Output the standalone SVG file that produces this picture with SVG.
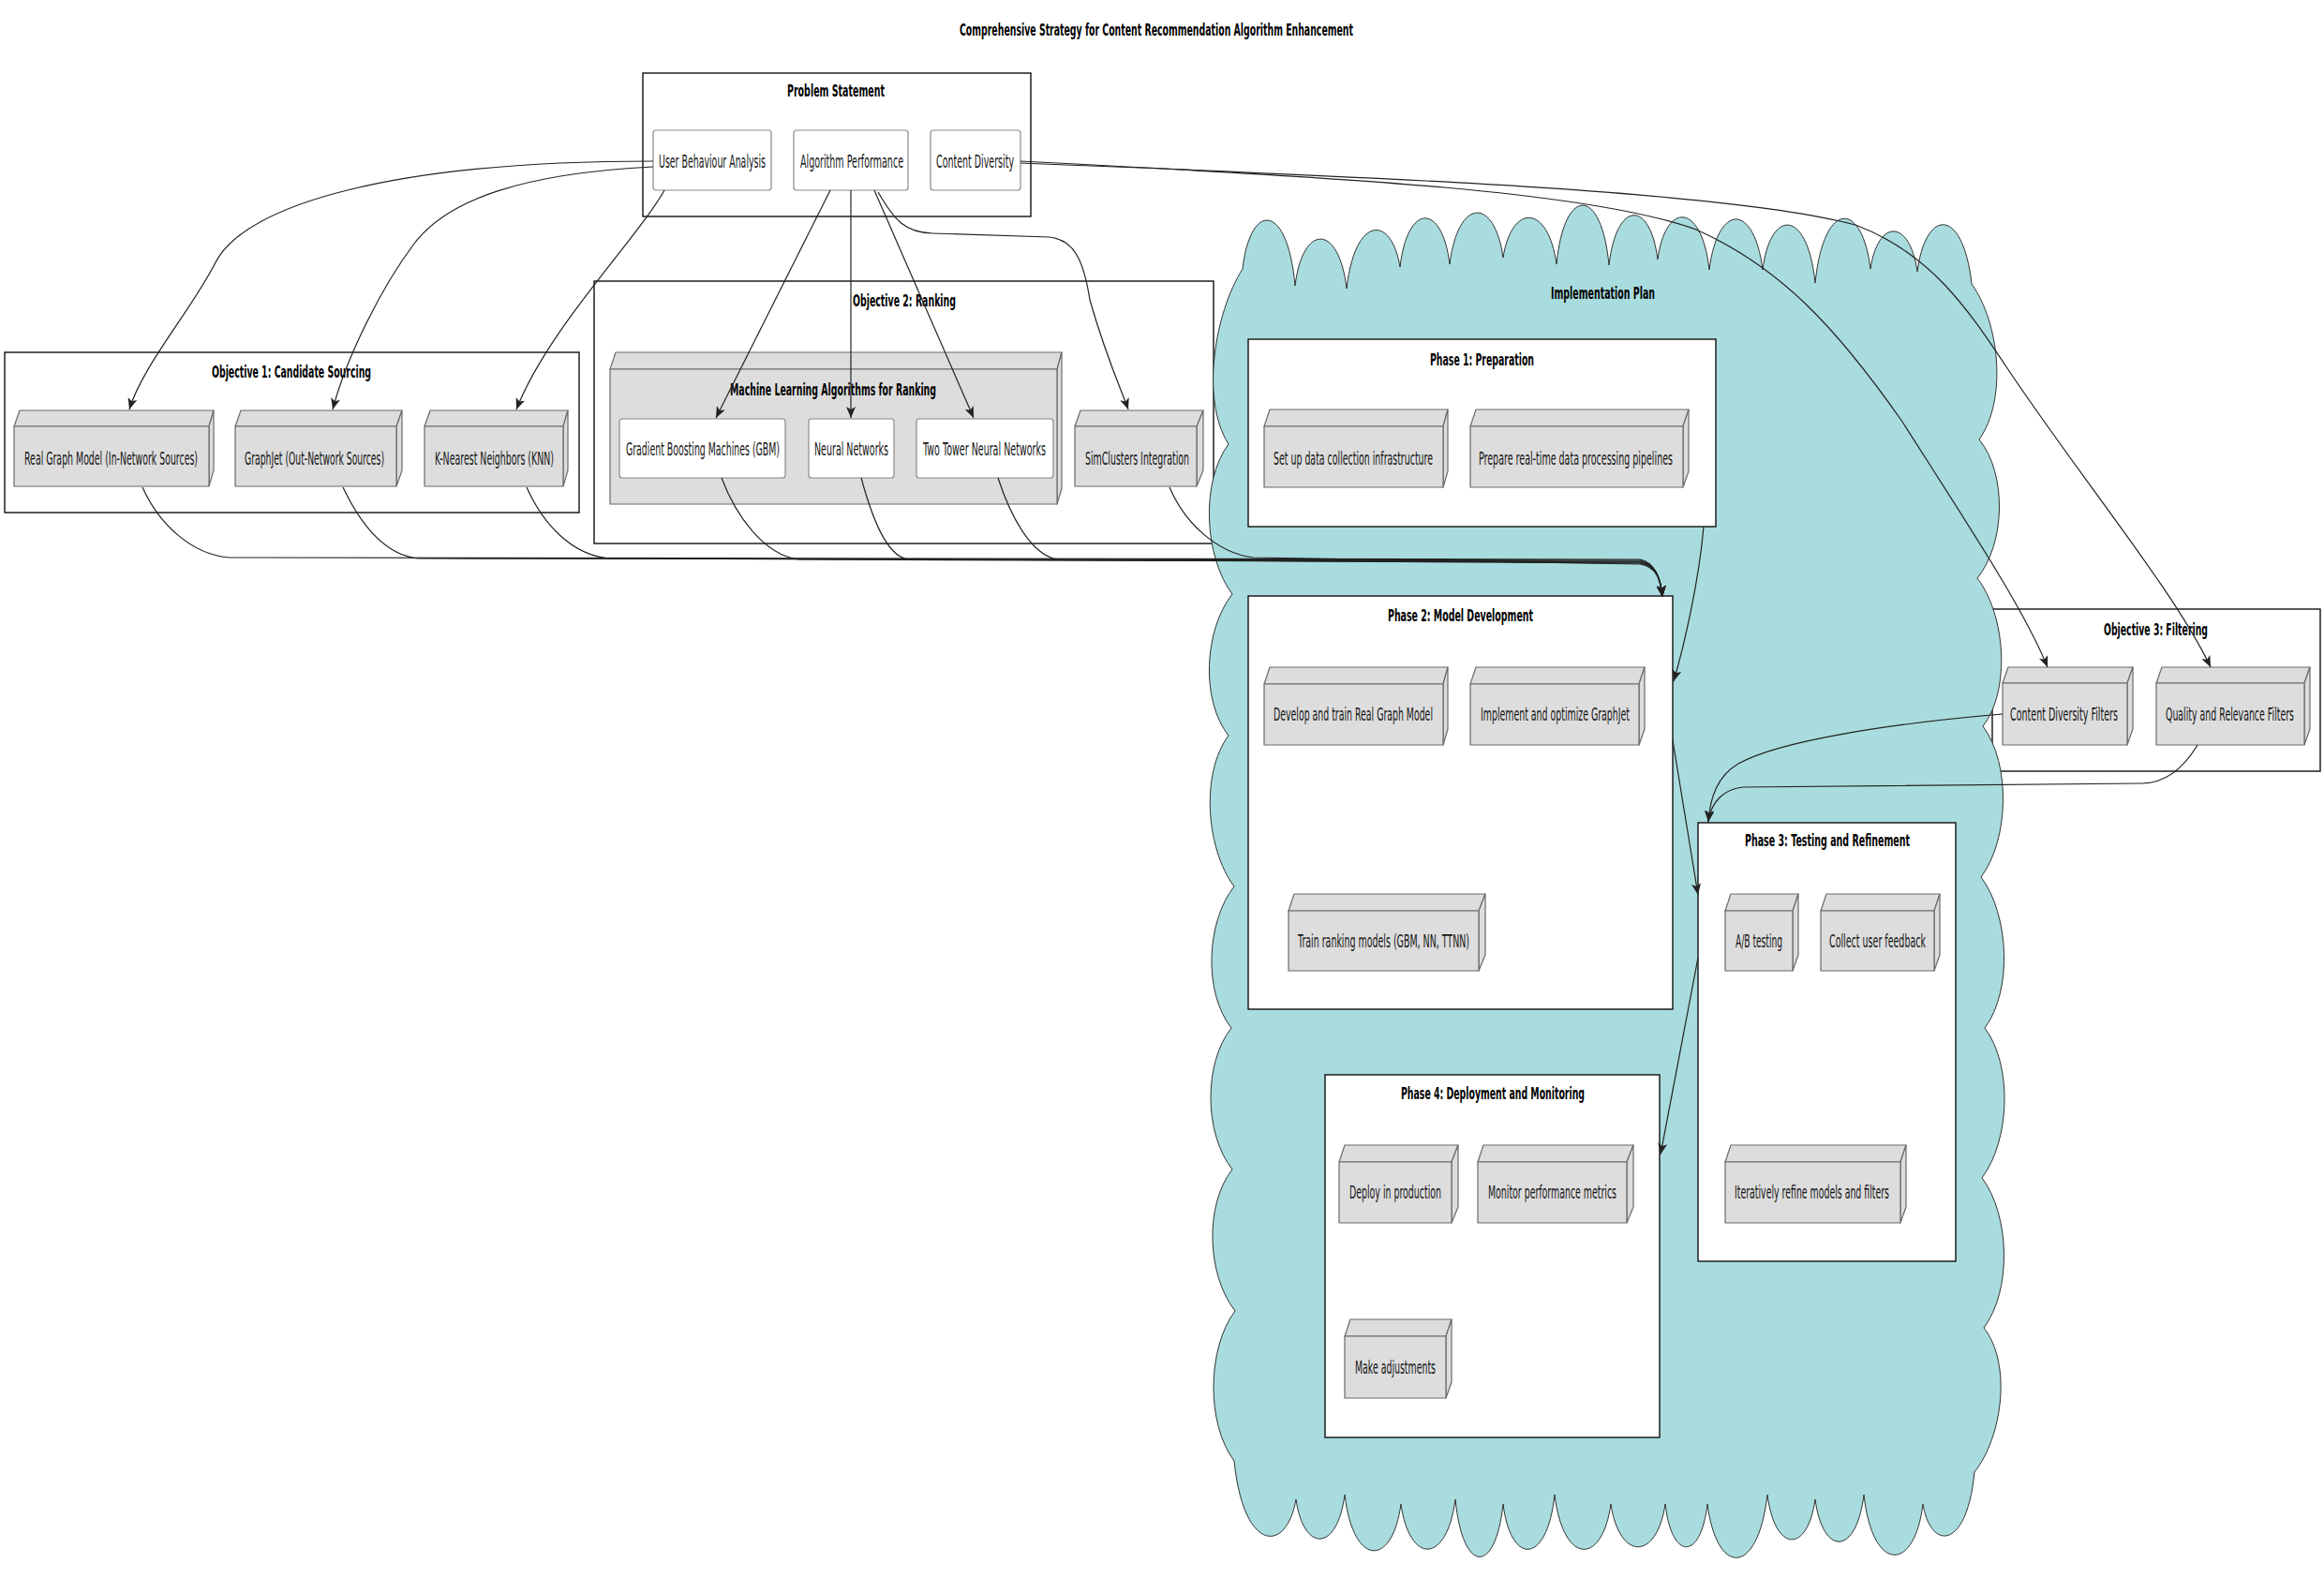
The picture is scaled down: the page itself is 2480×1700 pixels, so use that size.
<svg xmlns="http://www.w3.org/2000/svg" width="2480" height="1700" viewBox="0 0 2480 1700">
<defs>
<style>
.t{font-family:"DejaVu Sans","Liberation Sans",sans-serif;font-size:19px;fill:#151515}
.b{font-family:"DejaVu Sans","Liberation Sans",sans-serif;font-size:18px;font-weight:bold;fill:#000}
.pk{fill:#fff;stroke:#111;stroke-width:1.4}
.nd{fill:#DDDDDD;stroke:#6a6a6a;stroke-width:1.2;stroke-linejoin:round}
.wb{fill:#fff;stroke:#8a8a8a;stroke-width:1.2}
.cl{fill:#A9DCDE;stroke:#333;stroke-width:1}
.e{fill:none;stroke:#222;stroke-width:1.2}
</style>
<marker id="ar" viewBox="0 0 12 10" refX="12" refY="5" markerWidth="12" markerHeight="10" markerUnits="userSpaceOnUse" orient="auto">
<path d="M0,0 L12,5 L0,10 L3,5 Z" fill="#222"/>
</marker>
</defs>
<rect width="2480" height="1700" fill="#fff"/>
<text class="b" transform="translate(1024,38) scale(0.5,1)" textLength="840" lengthAdjust="spacingAndGlyphs">Comprehensive Strategy for Content Recommendation Algorithm Enhancement</text>

<g id="objective1">
<rect class="pk" x="5" y="376" width="613" height="171"/>
<text class="b" transform="translate(226,403) scale(0.5,1)" textLength="340" lengthAdjust="spacingAndGlyphs">Objective 1: Candidate Sourcing</text>
<g id="realgraph">
<path class="nd" d="M15,455 L21,438 L228,438 L223,455 Z"/><path class="nd" d="M223,455 L228,438 L228,502 L223,519 Z"/><rect class="nd" x="15" y="455" width="208" height="64"/>
<text class="t" transform="translate(26,496) scale(0.5,1)" textLength="370" lengthAdjust="spacingAndGlyphs">Real Graph Model (In-Network Sources)</text>
</g>
<g id="graphjet">
<path class="nd" d="M251,455 L257,438 L429,438 L423,455 Z"/><path class="nd" d="M423,455 L429,438 L429,502 L423,519 Z"/><rect class="nd" x="251" y="455" width="172" height="64"/>
<text class="t" transform="translate(261,496) scale(0.5,1)" textLength="298" lengthAdjust="spacingAndGlyphs">GraphJet (Out-Network Sources)</text>
</g>
<g id="knn">
<path class="nd" d="M453,455 L459,438 L606,438 L601,455 Z"/><path class="nd" d="M601,455 L606,438 L606,502 L601,519 Z"/><rect class="nd" x="453" y="455" width="148" height="64"/>
<text class="t" transform="translate(464,496) scale(0.5,1)" textLength="254" lengthAdjust="spacingAndGlyphs">K-Nearest Neighbors (KNN)</text>
</g>
</g>

<g id="objective2">
<rect class="pk" x="634" y="300" width="661" height="280"/>
<text class="b" transform="translate(910,327) scale(0.5,1)" textLength="220" lengthAdjust="spacingAndGlyphs">Objective 2: Ranking</text>
<g id="mlpackage">
<path class="nd" d="M651,394 L657,376 L1133,376 L1128,394 Z"/><path class="nd" d="M1128,394 L1133,376 L1133,521 L1128,538 Z"/><rect class="nd" x="651" y="394" width="477" height="144"/>
<text class="b" transform="translate(779,422) scale(0.5,1)" textLength="440" lengthAdjust="spacingAndGlyphs">Machine Learning Algorithms for Ranking</text>
</g>
<g id="gbm"><rect class="wb" x="661" y="447" width="177" height="63" rx="3"/>
<text class="t" transform="translate(668,486) scale(0.5,1)" textLength="328" lengthAdjust="spacingAndGlyphs">Gradient Boosting Machines (GBM)</text></g>
<g id="nn"><rect class="wb" x="863" y="447" width="91" height="63" rx="3"/>
<text class="t" transform="translate(869,486) scale(0.5,1)" textLength="158" lengthAdjust="spacingAndGlyphs">Neural Networks</text></g>
<g id="ttnn"><rect class="wb" x="978" y="447" width="146" height="63" rx="3"/>
<text class="t" transform="translate(985,486) scale(0.5,1)" textLength="262" lengthAdjust="spacingAndGlyphs">Two Tower Neural Networks</text></g>
<g id="simclusters">
<path class="nd" d="M1147,455 L1153,438 L1284,438 L1277,455 Z"/><path class="nd" d="M1277,455 L1284,438 L1284,502 L1277,519 Z"/><rect class="nd" x="1147" y="455" width="130" height="64"/>
<text class="t" transform="translate(1158,496) scale(0.5,1)" textLength="222" lengthAdjust="spacingAndGlyphs">SimClusters Integration</text>
</g>
</g>

<g id="problem">
<rect class="pk" x="686" y="78" width="414" height="153"/>
<text class="b" transform="translate(840,103) scale(0.5,1)" textLength="208" lengthAdjust="spacingAndGlyphs">Problem Statement</text>
<g id="uba"><rect class="wb" x="697" y="139" width="126" height="64" rx="3"/>
<text class="t" transform="translate(703,179) scale(0.5,1)" textLength="228" lengthAdjust="spacingAndGlyphs">User Behaviour Analysis</text></g>
<g id="algperf"><rect class="wb" x="847" y="139" width="122" height="64" rx="3"/>
<text class="t" transform="translate(854,179) scale(0.5,1)" textLength="220" lengthAdjust="spacingAndGlyphs">Algorithm Performance</text></g>
<g id="contdiv"><rect class="wb" x="993" y="139" width="96" height="64" rx="3"/>
<text class="t" transform="translate(999,179) scale(0.5,1)" textLength="166" lengthAdjust="spacingAndGlyphs">Content Diversity</text></g>
</g>

<g id="objective3">
<rect class="pk" x="2126" y="650" width="350" height="173"/>
<text class="b" transform="translate(2245,678) scale(0.5,1)" textLength="222" lengthAdjust="spacingAndGlyphs">Objective 3: Filtering</text>
<g id="cdf">
<path class="nd" d="M2137,729 L2143,712 L2276,712 L2270,729 Z"/><path class="nd" d="M2270,729 L2276,712 L2276,778 L2270,795 Z"/><rect class="nd" x="2137" y="729" width="133" height="66"/>
<text class="t" transform="translate(2145,769) scale(0.5,1)" textLength="230" lengthAdjust="spacingAndGlyphs">Content Diversity Filters</text>
</g>
<g id="qrf">
<path class="nd" d="M2301,729 L2307,712 L2465,712 L2459,729 Z"/><path class="nd" d="M2459,729 L2465,712 L2465,778 L2459,795 Z"/><rect class="nd" x="2301" y="729" width="158" height="66"/>
<text class="t" transform="translate(2311,769) scale(0.5,1)" textLength="274" lengthAdjust="spacingAndGlyphs">Quality and Relevance Filters</text>
</g>
</g>

<g id="implementation">
<path class="cl" d="M1326,287
C1334,215 1374,215 1382,305
C1390,238 1429,238 1437,308
C1446,229 1485,229 1494,285
C1502,216 1539,216 1547,282
C1556,210 1595,210 1604,275
C1613,217 1652,217 1661,282
C1669,198 1709,198 1717,283
C1725,213 1761,213 1769,277
C1777,215 1816,215 1824,288
C1833,216 1872,216 1881,288
C1889,222 1929,222 1937,302
C1946,213 1987,213 1996,287
C2004,233 2038,233 2046,290
C2055,221 2095,221 2104,303
C2134,345 2142,427 2112,469
C2142,506 2140,580 2110,617
C2140,656 2146,736 2116,775
C2146,815 2144,896 2114,936
C2144,976 2148,1057 2118,1097
C2148,1137 2145,1217 2115,1257
C2145,1297 2147,1377 2117,1417
C2147,1455 2137,1533 2107,1571
C2099,1655 2060,1655 2052,1605
C2043,1679 1998,1679 1989,1595
C1981,1661 1945,1661 1937,1600
C1929,1658 1894,1658 1886,1595
C1876,1683 1832,1683 1822,1605
C1815,1666 1784,1666 1777,1605
C1768,1666 1728,1666 1719,1605
C1710,1671 1668,1671 1659,1595
C1651,1671 1612,1671 1604,1605
C1596,1681 1561,1681 1553,1600
C1544,1670 1504,1670 1495,1605
C1486,1673 1444,1673 1435,1595
C1427,1657 1391,1657 1383,1600
C1373,1658 1327,1658 1317,1559
C1287,1519 1288,1439 1318,1399
C1288,1361 1285,1286 1315,1248
C1285,1210 1284,1135 1314,1097
C1284,1059 1287,984 1317,946
C1287,906 1281,825 1311,785
C1281,747 1285,672 1315,634
C1285,594 1281,514 1311,474
C1281,427 1296,334 1326,287 Z"/>
<text class="b" transform="translate(1655,319) scale(0.5,1)" textLength="222" lengthAdjust="spacingAndGlyphs">Implementation Plan</text>

<g id="phase1">
<rect class="pk" x="1332" y="362" width="499" height="200"/>
<text class="b" transform="translate(1526,390) scale(0.5,1)" textLength="222" lengthAdjust="spacingAndGlyphs">Phase 1: Preparation</text>
<g id="setup">
<path class="nd" d="M1349,455 L1355,437 L1545,437 L1540,455 Z"/><path class="nd" d="M1540,455 L1545,437 L1545,503 L1540,520 Z"/><rect class="nd" x="1349" y="455" width="191" height="65"/>
<text class="t" transform="translate(1359,496) scale(0.5,1)" textLength="340" lengthAdjust="spacingAndGlyphs">Set up data collection infrastructure</text>
</g>
<g id="prepare">
<path class="nd" d="M1569,455 L1575,437 L1802,437 L1796,455 Z"/><path class="nd" d="M1796,455 L1802,437 L1802,503 L1796,520 Z"/><rect class="nd" x="1569" y="455" width="227" height="65"/>
<text class="t" transform="translate(1578,496) scale(0.5,1)" textLength="414" lengthAdjust="spacingAndGlyphs">Prepare real-time data processing pipelines</text>
</g>
</g>

<g id="phase2">
<rect class="pk" x="1332" y="636" width="453" height="441"/>
<text class="b" transform="translate(1481,663) scale(0.5,1)" textLength="310" lengthAdjust="spacingAndGlyphs">Phase 2: Model Development</text>
<g id="develop">
<path class="nd" d="M1349,730 L1355,712 L1545,712 L1540,730 Z"/><path class="nd" d="M1540,730 L1545,712 L1545,778 L1540,795 Z"/><rect class="nd" x="1349" y="730" width="191" height="65"/>
<text class="t" transform="translate(1359,769) scale(0.5,1)" textLength="340" lengthAdjust="spacingAndGlyphs">Develop and train Real Graph Model</text>
</g>
<g id="implement">
<path class="nd" d="M1569,730 L1575,712 L1755,712 L1749,730 Z"/><path class="nd" d="M1749,730 L1755,712 L1755,778 L1749,795 Z"/><rect class="nd" x="1569" y="730" width="180" height="65"/>
<text class="t" transform="translate(1580,769) scale(0.5,1)" textLength="318" lengthAdjust="spacingAndGlyphs">Implement and optimize GraphJet</text>
</g>
<g id="trainrank">
<path class="nd" d="M1375,972 L1381,954 L1585,954 L1578,972 Z"/><path class="nd" d="M1578,972 L1585,954 L1585,1019 L1578,1036 Z"/><rect class="nd" x="1375" y="972" width="203" height="64"/>
<text class="t" transform="translate(1385,1011) scale(0.5,1)" textLength="366" lengthAdjust="spacingAndGlyphs">Train ranking models (GBM, NN, TTNN)</text>
</g>
</g>

<g id="phase3">
<rect class="pk" x="1812" y="878" width="275" height="468"/>
<text class="b" transform="translate(1862,903) scale(0.5,1)" textLength="352" lengthAdjust="spacingAndGlyphs">Phase 3: Testing and Refinement</text>
<g id="abtest">
<path class="nd" d="M1841,972 L1847,954 L1919,954 L1913,972 Z"/><path class="nd" d="M1913,972 L1919,954 L1919,1019 L1913,1036 Z"/><rect class="nd" x="1841" y="972" width="72" height="64"/>
<text class="t" transform="translate(1852,1011) scale(0.5,1)" textLength="100" lengthAdjust="spacingAndGlyphs">A/B testing</text>
</g>
<g id="feedback">
<path class="nd" d="M1943,972 L1949,954 L2070,954 L2064,972 Z"/><path class="nd" d="M2064,972 L2070,954 L2070,1019 L2064,1036 Z"/><rect class="nd" x="1943" y="972" width="121" height="64"/>
<text class="t" transform="translate(1952,1011) scale(0.5,1)" textLength="206" lengthAdjust="spacingAndGlyphs">Collect user feedback</text>
</g>
<g id="refine">
<path class="nd" d="M1841,1240 L1847,1222 L2034,1222 L2028,1240 Z"/><path class="nd" d="M2028,1240 L2034,1222 L2034,1288 L2028,1305 Z"/><rect class="nd" x="1841" y="1240" width="187" height="65"/>
<text class="t" transform="translate(1851,1279) scale(0.5,1)" textLength="330" lengthAdjust="spacingAndGlyphs">Iteratively refine models and filters</text>
</g>
</g>

<g id="phase4">
<rect class="pk" x="1414" y="1147" width="357" height="387"/>
<text class="b" transform="translate(1495,1173) scale(0.5,1)" textLength="392" lengthAdjust="spacingAndGlyphs">Phase 4: Deployment and Monitoring</text>
<g id="deploy">
<path class="nd" d="M1429,1240 L1435,1222 L1556,1222 L1549,1240 Z"/><path class="nd" d="M1549,1240 L1556,1222 L1556,1288 L1549,1305 Z"/><rect class="nd" x="1429" y="1240" width="120" height="65"/>
<text class="t" transform="translate(1440,1279) scale(0.5,1)" textLength="196" lengthAdjust="spacingAndGlyphs">Deploy in production</text>
</g>
<g id="monitor">
<path class="nd" d="M1577,1240 L1583,1222 L1743,1222 L1736,1240 Z"/><path class="nd" d="M1736,1240 L1743,1222 L1743,1288 L1736,1305 Z"/><rect class="nd" x="1577" y="1240" width="159" height="65"/>
<text class="t" transform="translate(1588,1279) scale(0.5,1)" textLength="274" lengthAdjust="spacingAndGlyphs">Monitor performance metrics</text>
</g>
<g id="adjust">
<path class="nd" d="M1435,1426 L1441,1408 L1549,1408 L1543,1426 Z"/><path class="nd" d="M1543,1426 L1549,1408 L1549,1475 L1543,1492 Z"/><rect class="nd" x="1435" y="1426" width="108" height="66"/>
<text class="t" transform="translate(1446,1466) scale(0.5,1)" textLength="172" lengthAdjust="spacingAndGlyphs">Make adjustments</text>
</g>
</g>
</g>

<g id="connectors">
<path class="e" marker-end="url(#ar)" d="M697,172 C420,172 262,218 230,280 C205,330 152,390 138,437"/>
<path class="e" marker-end="url(#ar)" d="M697,178 C560,185 478,212 442,260 C408,305 370,380 355,437"/>
<path class="e" marker-end="url(#ar)" d="M709,203 C680,255 585,350 551,437"/>
<path class="e" marker-end="url(#ar)" d="M886,203 L764,446"/>
<path class="e" marker-end="url(#ar)" d="M908,203 L908,446"/>
<path class="e" marker-end="url(#ar)" d="M933,203 L1039,446"/>
<path class="e" marker-end="url(#ar)" d="M937,205 C955,236 966,248 995,249 L1120,253 C1145,256 1156,275 1163,320 C1180,380 1198,420 1204,437"/>
<path class="e" marker-end="url(#ar)" d="M1089,172 C1450,190 1700,205 1810,245 C1900,285 1960,350 2030,450 C2100,560 2160,650 2185,712"/>
<path class="e" marker-end="url(#ar)" d="M1089,174 C1500,190 1850,205 1980,240 C2060,270 2100,330 2140,390 C2220,510 2320,630 2359,712"/>
<path class="e" marker-end="url(#ar)" d="M152,520 C170,560 205,592 245,595 L1750,597 C1765,600 1772,615 1774,637"/>
<path class="e" marker-end="url(#ar)" d="M366,520 C385,560 410,592 446,596 L1750,598 C1766,601 1772,616 1774,637"/>
<path class="e" marker-end="url(#ar)" d="M562,520 C580,560 610,592 650,596 L1750,599 C1767,602 1772,617 1774,637"/>
<path class="e" marker-end="url(#ar)" d="M770,510 C785,550 815,592 852,597 L1750,600 C1768,603 1772,618 1774,637"/>
<path class="e" marker-end="url(#ar)" d="M919,510 C930,550 945,592 968,597 L1750,600 C1768,603 1772,618 1774,637"/>
<path class="e" marker-end="url(#ar)" d="M1065,510 C1078,550 1100,592 1128,597 L1750,601 C1769,604 1772,619 1774,637"/>
<path class="e" marker-end="url(#ar)" d="M1248,520 C1265,560 1300,590 1337,595 L1750,602 C1769,605 1772,620 1774,637"/>
<path class="e" marker-end="url(#ar)" d="M1818,562 C1813,620 1797,690 1786,727"/>
<path class="e" marker-end="url(#ar)" d="M1785,790 L1812,955"/>
<path class="e" marker-end="url(#ar)" d="M1812,1022 L1772,1232"/>
<path class="e" marker-end="url(#ar)" d="M2137,762 C2020,772 1900,790 1855,815 C1833,828 1825,850 1823,877"/>
<path class="e" marker-end="url(#ar)" d="M2345,795 C2330,820 2310,836 2285,836 L1860,840 C1840,842 1826,855 1823,877"/>
</g>
</svg>
